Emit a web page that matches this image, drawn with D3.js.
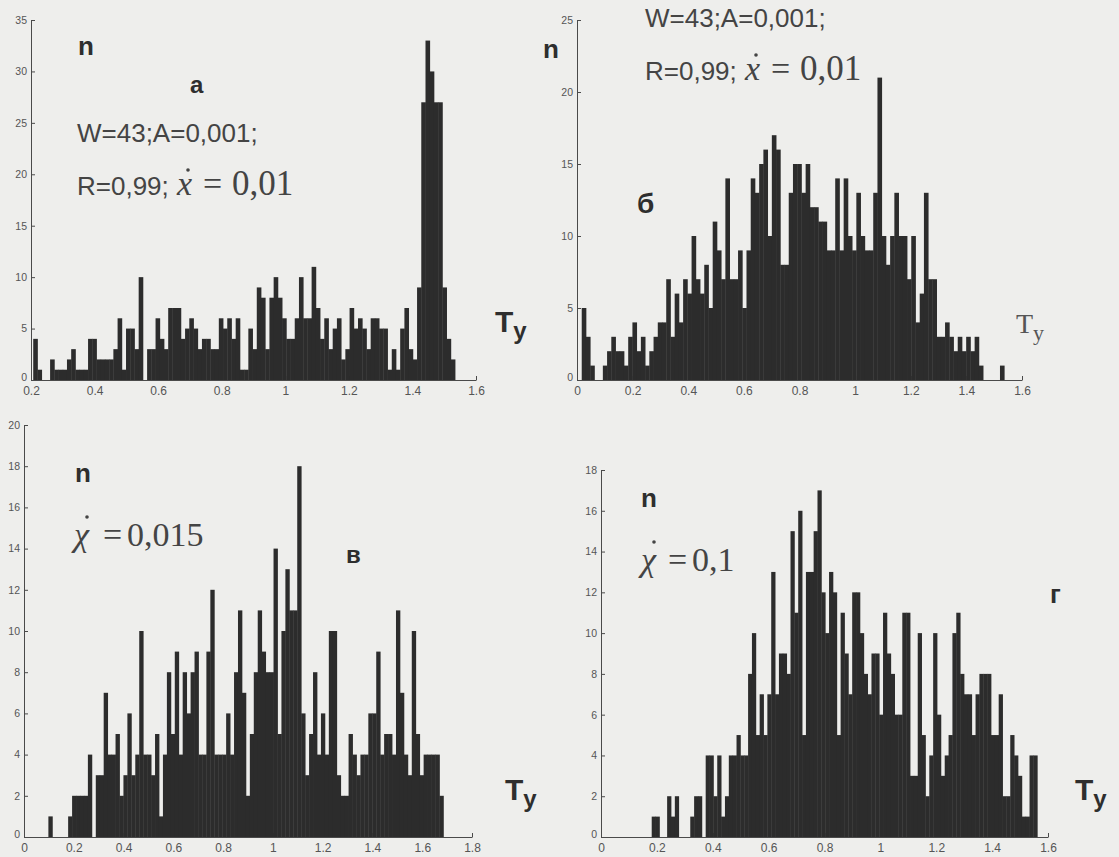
<!DOCTYPE html>
<html>
<head>
<meta charset="utf-8">
<script src="https://cdn.jsdelivr.net/npm/d3@7"></script>
<style>
  body { margin: 0; background: #eeeeec; }
  svg { display: block; }
  .tick text { font-family: "Liberation Sans", Arial, sans-serif; fill: #555; }
  .axis path, .axis line { stroke: #4a4a4a; }
</style>
</head>
<body>
<svg width="1119" height="857"></svg>
<script>
// counts per bin (100 bins each panel)
var countsA = [4,1,0,0,2,1,1,1,2,3, 1,1,1,4,4,2,2,2,2,3, 6,1,5,5,3,10,0,3,3,6, 4,3,7,7,7,4,5,6,5,3,
  4,4,3,3,6,5,6,4,6,1, 1,5,3,9,8,3,8,10,8,6, 4,4,6,10,6,6,11,7,4,6, 3,5,6,2,3,7,5,6,5,3,
  6,6,5,5,1,3,1,5,7,3, 2,9,27,33,30,27,27,9,4,2];
var countsB = [5,3,1,0,0,1,2,3,2,2, 1,3,4,2,3,1,2,3,4,4, 7,3,6,4,7,6,10,7,6,8, 5,11,9,7,14,7,7,9,5,9,
  14,13,15,16,10,17,16,8,8,13, 15,15,13,15,12,12,11,11,9,9, 14,9,14,10,9,13,10,9,9,13, 21,10,8,10,13,10,10,7,10,4,
  6,13,7,7,3,3,4,3,2,3, 2,3,2,3,1,0,0,0,0,1];
var countsV = [1,0,0,0,0,1,2,2,2,2, 4,0,3,3,7,4,4,5,2,3, 6,3,4,10,4,4,3,5,1,4, 8,5,9,4,8,6,8,9,4,4,
  9,12,4,4,4,6,4,8,11,7, 2,5,8,11,9,8,8,14,5,10, 13,11,11,18,6,3,5,8,4,6, 4,10,10,3,2,2,5,4,3,4,
  4,6,6,9,4,5,5,4,11,7, 4,3,10,5,3,4,4,4,4,2];
var countsG = [1,1,0,0,2,1,2,0,0,0, 1,2,2,0,4,4,2,4,1,2, 4,4,5,4,4,8,10,5,7,5, 7,13,7,9,9,8,15,11,16,5,
  13,13,15,17,12,10,13,12,5,11, 9,7,12,12,10,8,7,9,9,6, 11,9,8,6,6,11,11,3,3,10, 5,2,4,10,6,3,4,5,10,11,
  8,7,7,5,7,8,8,8,5,5, 7,2,2,5,4,3,1,1,4,4];

// first bin edge and bin width (T_y units)
var binA = [0.207, 0.01327];
var binB = [0.017, 0.01519];
var binV = [0.098, 0.01587];
var binG = [0.1815, 0.0138];

var xTicksA = [0.2, 0.4, 0.6, 0.8, 1, 1.2, 1.4, 1.6];
var yTicksA = [0, 5, 10, 15, 20, 25, 30, 35];
var xTicksB = [0, 0.2, 0.4, 0.6, 0.8, 1, 1.2, 1.4, 1.6];
var yTicksB = [0, 5, 10, 15, 20, 25];
var xTicksV = [0, 0.2, 0.4, 0.6, 0.8, 1, 1.2, 1.4, 1.6, 1.8];
var yTicksV = [0, 2, 4, 6, 8, 10, 12, 14, 16, 18, 20];
var xTicksG = [0, 0.2, 0.4, 0.6, 0.8, 1, 1.2, 1.4, 1.6];
var yTicksG = [0, 2, 4, 6, 8, 10, 12, 14, 16, 18];

var svg = d3.select("svg");

var panels = [
  {counts: countsA, bin: binA, xTicks: xTicksA, yTicks: yTicksA, box: [31, 476, 20, 380]},
  {counts: countsB, bin: binB, xTicks: xTicksB, yTicks: yTicksB, box: [577, 1022, 20, 380]},
  {counts: countsV, bin: binV, xTicks: xTicksV, yTicks: yTicksV, box: [24, 472, 425, 837]},
  {counts: countsG, bin: binG, xTicks: xTicksG, yTicks: yTicksG, box: [601, 1048, 470, 837]}
];

panels.forEach(drawPanel);

function drawPanel(p) {
  var x = d3.scaleLinear()
    .domain(d3.extent(p.xTicks))
    .range([p.box[0], p.box[1]]);
  var y = d3.scaleLinear()
    .domain(d3.extent(p.yTicks))
    .range([p.box[3], p.box[2]]);

  var g = svg.append("g");

  // axes go under the bars (matlab draws them on the bottom layer)
  g.append("g")
    .attr("class", "axis")
    .attr("transform", "translate(0," + p.box[3] + ")")
    .call(d3.axisBottom(x).tickValues(p.xTicks).tickSizeInner(-4).tickSizeOuter(0).tickPadding(6).tickFormat(d3.format("")))
    .selectAll("text").style("font-size", "12px");

  g.append("g")
    .attr("class", "axis")
    .attr("transform", "translate(" + p.box[0] + ",0)")
    .call(d3.axisLeft(y).tickValues(p.yTicks).tickSizeInner(-4).tickSizeOuter(0).tickPadding(4))
    .selectAll("text").style("font-size", "10.5px")
    .attr("dy", d => d == 0 ? "0" : "0.32em");

  var w = x(p.bin[0] + p.bin[1]) - x(p.bin[0]);

  g.append("g")
    .selectAll("rect")
    .data(p.counts)
    .enter().append("rect")
    .attr("x", (d, i) => x(p.bin[0] + i * p.bin[1]))
    .attr("width", w + 0.4)
    .attr("y", d => y(d))
    .attr("height", d => y(0) - y(d))
    .attr("fill", "#2c2c2c");
}

// annotations
var sans = '"Liberation Sans", Arial, sans-serif';
var serif = '"Liberation Serif", "Times New Roman", serif';

var notes = [
  // panel a
  {t: "n", x: 78, y: 55, size: 26, bold: true},
  {t: "a", x: 190, y: 93, size: 24, bold: true},
  {t: "W=43;A=0,001;", x: 77, y: 142, size: 26},
  {t: "R=0,99;", x: 77, y: 195, size: 26},
  {t: "x", x: 177, y: 195, size: 34, font: serif, italic: true},
  {t: "=", x: 203, y: 195, size: 34, font: serif},
  {t: "0,01", x: 232, y: 195, size: 35, font: serif},
  // panel б
  {t: "n", x: 543, y: 58, size: 26, bold: true},
  {t: "W=43;A=0,001;", x: 645, y: 27, size: 26},
  {t: "R=0,99;", x: 645, y: 80, size: 26},
  {t: "x", x: 745, y: 80, size: 34, font: serif, italic: true},
  {t: "=", x: 771, y: 80, size: 34, font: serif},
  {t: "0,01", x: 800, y: 80, size: 35, font: serif},
  {t: "б", x: 637, y: 213, size: 28, bold: true},
  // panel в
  {t: "n", x: 75, y: 482, size: 26, bold: true},
  {t: "\u03c7", x: 74, y: 546, size: 34, font: serif, italic: true},
  {t: "=", x: 103, y: 546, size: 34, font: serif},
  {t: "0,015", x: 127, y: 546, size: 34, font: serif},
  {t: "в", x: 346, y: 563, size: 24, bold: true},
  // panel г
  {t: "n", x: 641, y: 507, size: 26, bold: true},
  {t: "\u03c7", x: 641, y: 571, size: 34, font: serif, italic: true},
  {t: "=", x: 668, y: 571, size: 34, font: serif},
  {t: "0,1", x: 692, y: 571, size: 34, font: serif},
  {t: "г", x: 1050, y: 603, size: 26, bold: true}
];

svg.append("g")
  .selectAll("text")
  .data(notes)
  .enter().append("text")
  .attr("x", d => d.x)
  .attr("y", d => d.y)
  .style("font-family", d => d.font || sans)
  .style("font-size", d => d.size + "px")
  .style("font-weight", d => d.bold ? "bold" : "normal")
  .style("font-style", d => d.italic ? "italic" : "normal")
  .style("fill", d => d.bold ? "#2e2e2e" : "#444")
  .text(d => d.t);

// time-derivative dots over x and chi
var dots = [[188, 170], [756, 55], [87, 517], [654, 542]];
svg.append("g")
  .selectAll("circle")
  .data(dots)
  .enter().append("circle")
  .attr("cx", d => d[0])
  .attr("cy", d => d[1])
  .attr("r", 1.8)
  .attr("fill", "#444");

// T_y axis captions, the y set a little lower
var captions = [
  {x: 495, y: 332, font: sans, bold: true},
  {x: 1016, y: 333, font: serif, bold: false},
  {x: 505, y: 800, font: sans, bold: true},
  {x: 1075, y: 800, font: sans, bold: true}
];

var cap = svg.append("g")
  .selectAll("text")
  .data(captions)
  .enter().append("text")
  .attr("x", d => d.x)
  .attr("y", d => d.y)
  .style("font-family", d => d.font)
  .style("font-weight", d => d.bold ? "bold" : "normal")
  .style("fill", d => d.bold ? "#2e2e2e" : "#555");

cap.append("tspan").style("font-size", d => d.bold ? "30px" : "28px").text("T");
cap.append("tspan").attr("dy", 7).style("font-size", d => d.bold ? "24px" : "22px").text("y");
</script>
</body>
</html>
